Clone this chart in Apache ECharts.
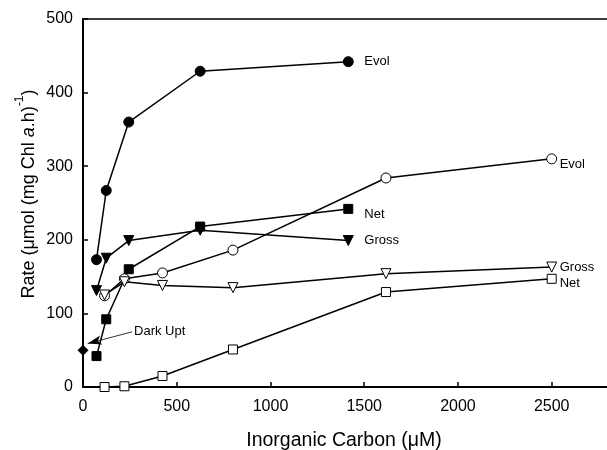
<!DOCTYPE html>
<html lang="en">
<head>
<meta charset="UTF-8">
<title>Rate vs Inorganic Carbon</title>
<script src="https://cdn.jsdelivr.net/npm/echarts@6/dist/echarts.min.js"></script>
<style>
  html, body { margin: 0; padding: 0; background: #fff; }
  #container { width: 607px; height: 450px; }
</style>
</head>
<body>
<div id="container"></div>
<script type="text/javascript">
// filled symbols (first set)
var xFilled = [72, 124, 244, 625, 1415];
var evolFilled = [173, 267, 360, 429, 442];
var grossFilled = [131, 175, 199, 213, 199];
var netFilled = [42, 92, 160, 218, 242];

// open symbols (second set)
var xOpen = [115, 221, 424, 800, 1616, 2500];
var evolOpen = [124, 147, 155, 186, 284, 310];
var grossOpen = [125, 143, 138, 135, 154, 163];
var netOpen = [0, 1, 15, 51, 129, 147];

// dark uptake
var xDark = [0];
var darkUpt = [50];
var darkArrow = [[25, 59], [262, 75]];

var xTicks = [0, 500, 1000, 1500, 2000, 2500];
var yTicks = [0, 100, 200, 300, 400, 500];

function pairs(xs, ys) {
    var out = [];
    for (var i = 0; i < xs.length; i++) out.push([xs[i], ys[i]]);
    return out;
}

var dom = document.getElementById("container");
var myChart = echarts.init(dom);
var font = 'Liberation Sans, Arial, sans-serif';

function mkSeries(name, xs, ys, symbol, filled, label, labelOffset) {
    return {
        name: name,
        type: 'line',
        data: pairs(xs, ys),
        symbol: symbol,
        symbolSize: symbol === 'triangle' ? 10 : (symbol === 'rect' ? 9 : 10),
        symbolRotate: symbol === 'triangle' ? 180 : 0,
        clip: false,
        lineStyle: { color: '#000', width: 1.5 },
        itemStyle: {
            color: filled ? '#000' : '#fff',
            borderColor: '#000',
            borderWidth: 1
        },
        endLabel: {
            show: !!label,
            formatter: label || '',
            color: '#000',
            fontFamily: font,
            fontSize: 13,
            offset: labelOffset || [0, 0]
        },
        animation: false
    };
}

var option = {
    animation: false,
    grid: { left: 83, top: 19, width: 524, height: 368, containLabel: false },
    xAxis: [{
        type: 'value',
        min: 0,
        max: 2795,
        interval: 500,
        axisLine: { show: true, lineStyle: { color: '#000', width: 2 } },
        axisTick: { show: true, inside: true, length: 5, lineStyle: { color: '#000', width: 1.5 } },
        axisLabel: {
            color: '#000', fontFamily: font, fontSize: 16, margin: 12,
            showMaxLabel: false,
            formatter: function (v) { return xTicks.indexOf(v) >= 0 ? String(v) : ''; }
        },
        splitLine: { show: false }
    }, {
        type: 'value',
        position: 'top',
        min: 0,
        max: 2795,
        axisLine: { show: true, onZero: false, lineStyle: { color: '#000', width: 1.5 } },
        axisTick: { show: false },
        axisLabel: { show: false },
        splitLine: { show: false }
    }],
    yAxis: {
        type: 'value',
        min: 0,
        max: 500,
        interval: 100,
        axisLine: { show: true, lineStyle: { color: '#000', width: 2 } },
        axisTick: { show: true, inside: true, length: 5, lineStyle: { color: '#000', width: 1.5 } },
        axisLabel: {
            color: '#000', fontFamily: font, fontSize: 16, margin: 10,
            formatter: function (v) { return yTicks.indexOf(v) >= 0 ? String(v) : ''; }
        },
        splitLine: { show: false }
    },
    graphic: [{
        type: 'text',
        x: 344,
        y: 441,
        style: {
            text: 'Inorganic Carbon (\u03bcM)',
            fill: '#000',
            font: '19.5px ' + font,
            align: 'center',
            verticalAlign: 'middle'
        }
    }, {
        type: 'text',
        x: 26,
        y: 194,
        rotation: Math.PI / 2,
        style: {
            text: '{n|Rate (\u03bcmol (mg Chl }{i|a}{n|.h)}{s|-1}{n|)}',
            fill: '#000',
            align: 'center',
            verticalAlign: 'middle',
            rich: {
                n: { fontFamily: font, fontSize: 18, color: '#000', lineHeight: 24, verticalAlign: 'bottom' },
                i: { fontFamily: font, fontSize: 18, fontStyle: 'italic', color: '#000', lineHeight: 24, verticalAlign: 'bottom' },
                s: { fontFamily: font, fontSize: 12, color: '#000', lineHeight: 24, verticalAlign: 'top' }
            }
        }
    }],
    series: [
        mkSeries('Evol filled', xFilled, evolFilled, 'circle', true, 'Evol', [8, 0]),
        mkSeries('Gross filled', xFilled, grossFilled, 'triangle', true, 'Gross', [8, 0]),
        mkSeries('Net filled', xFilled, netFilled, 'rect', true, 'Net', [8, 6]),
        mkSeries('Evol open', xOpen, evolOpen, 'circle', false, 'Evol', [0, 6]),
        mkSeries('Gross open', xOpen, grossOpen, 'triangle', false, 'Gross', [0, 0]),
        mkSeries('Net open', xOpen, netOpen, 'rect', false, 'Net', [0, 5]),
        {
            name: 'Dark Upt',
            type: 'line',
            data: pairs(xDark, darkUpt),
            symbol: 'diamond',
            symbolSize: 11,
            clip: false,
            itemStyle: { color: '#000' },
            lineStyle: { width: 0 },
            markLine: {
                silent: true,
                symbol: ['arrow', 'none'],
                symbolSize: [7, 14],
                lineStyle: { color: '#000', width: 0.8, type: 'solid' },
                label: {
                    show: true,
                    position: 'end',
                    formatter: 'Dark Upt',
                    color: '#000',
                    fontFamily: font,
                    fontSize: 13,
                    distance: 2
                },
                data: [[{ coord: darkArrow[0] }, { coord: darkArrow[1] }]]
            },
            animation: false
        }
    ]
};

if (option && typeof option === "object") {
    myChart.setOption(option, true);
}
</script>
</body>
</html>
